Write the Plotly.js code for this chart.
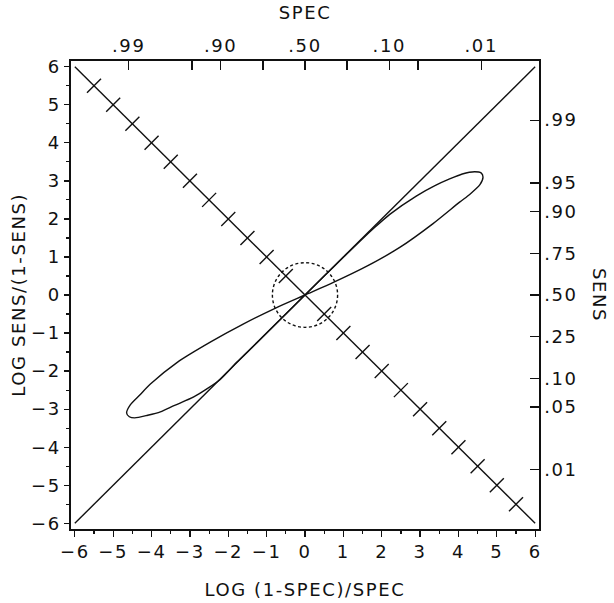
<!DOCTYPE html>
<html>
<head>
<meta charset="utf-8">
<script src="https://cdn.plot.ly/plotly-3.0.1.min.js"></script>
<style>
  html, body { margin: 0; padding: 0; background: #fff; }
  #chart { width: 614px; height: 603px; }
  #chart text { letter-spacing: 1.6px; }
</style>
</head>
<body>
<div id="chart"></div>
<script>
// ---------------- data ----------------
const xTickValues = [-6, -5, -4, -3, -2, -1, 0, 1, 2, 3, 4, 5, 6];
const yTickValues = [-6, -5, -4, -3, -2, -1, 0, 1, 2, 3, 4, 5, 6];

const specValues = [0.99, 0.95, 0.90, 0.75, 0.50, 0.25, 0.10, 0.05, 0.01];
const specLabels = ['.99', '', '.90', '', '.50', '', '.10', '', '.01'];

const sensValues = [0.99, 0.95, 0.90, 0.75, 0.50, 0.25, 0.10, 0.05, 0.01];
const sensLabels = ['.99', '.95', '.90', '.75', '.50', '.25', '.10', '.05', '.01'];

// diagonal y = x
const diagX = [-6, 6];
const diagY = [-6, 6];
// anti-diagonal y = -x
const antiX = [-6, 6];
const antiY = [6, -6];
// cross marks along the anti-diagonal
const crossX = [-5.5, -5, -4.5, -4, -3.5, -3, -2.5, -2, -1.5, -1, -0.5,
                 0.5, 1, 1.5, 2, 2.5, 3, 3.5, 4, 4.5, 5, 5.5];
const crossY = [5.5, 5, 4.5, 4, 3.5, 3, 2.5, 2, 1.5, 1, 0.5,
                -0.5, -1, -1.5, -2, -2.5, -3, -3.5, -4, -4.5, -5, -5.5];

// figure-eight ("ellipse") curve
const loopX = [0, 0.5, 1.0, 1.5, 1.8, 2.21, 2.9, 3.4, 3.77, 4.1, 4.42, 4.59, 4.64, 4.56, 4.3, 4.03, 3.33, 2.47, 1.6, 0.74,
               0, -0.74, -1.6, -2.47, -3.33, -4.03, -4.3, -4.55, -4.65, -4.58, -4.44, -4.1, -3.77, -3.4, -2.9, -2.21, -1.8, -1.5, -1.0, -0.5, 0];
const loopY = [0, 0.5, 0.99, 1.48, 1.76, 2.12, 2.6, 2.88, 3.05, 3.18, 3.24, 3.21, 3.1, 2.9, 2.65, 2.44, 1.87, 1.25, 0.75, 0.33,
               0, -0.33, -0.76, -1.24, -1.77, -2.34, -2.62, -2.88, -3.1, -3.2, -3.23, -3.16, -3.07, -2.9, -2.68, -2.22, -1.79, -1.5, -1.0, -0.5, 0];

// dashed circle around the origin
const circleRadius = 0.85;

// ---------------- chart ----------------
const logit = p => Math.log(p / (1 - p));
const specPositions = specValues.map(s => Math.log((1 - s) / s));
const sensPositions = sensValues.map(logit);

const FONT = 'DejaVu Sans, Liberation Sans, Arial, sans-serif';
const INK = '#111';
const FS = 18;
const xRange = [-6.1, 6.1];
const yRange = [-6.15, 6.15];

const traces = [
  { x: diagX, y: diagY, mode: 'lines', line: { color: INK, width: 1.4 }, hoverinfo: 'skip' },
  { x: antiX, y: antiY, mode: 'lines', line: { color: INK, width: 1.4 }, hoverinfo: 'skip' },
  { x: crossX, y: crossY, mode: 'markers',
    marker: { symbol: 'line-ne', size: 14, color: INK, line: { color: INK, width: 1.4 } }, hoverinfo: 'skip' },
  { x: loopX, y: loopY, mode: 'lines', line: { color: INK, width: 1.4, shape: 'spline', smoothing: 0.7 }, hoverinfo: 'skip' },
  // invisible helper trace so the top/right axes are drawn
  { x: [0], y: [0], xaxis: 'x2', yaxis: 'y2', mode: 'markers', marker: { opacity: 0 }, hoverinfo: 'skip' }
];

const axisCommon = {
  showgrid: false, zeroline: false, showline: true,
  linecolor: INK, linewidth: 1.6, tickcolor: INK, tickwidth: 1.3,
  tickfont: { family: FONT, size: FS, color: INK }
};

const layout = {
  width: 614, height: 603,
  margin: { l: 71, r: 75, t: 61, b: 74 },
  paper_bgcolor: '#fff', plot_bgcolor: '#fff',
  showlegend: false,
  xaxis: Object.assign({}, axisCommon, {
    range: xRange, tickmode: 'array', tickvals: xTickValues,
    ticks: 'outside', ticklen: 6,
    minor: { dtick: 0.5, ticks: 'outside', ticklen: 3, tickcolor: INK, tickwidth: 1.2 }
  }),
  yaxis: Object.assign({}, axisCommon, {
    range: yRange, tickmode: 'array', tickvals: yTickValues,
    ticks: 'outside', ticklen: 5,
    minor: { dtick: 0.5, ticks: 'outside', ticklen: 3, tickcolor: INK, tickwidth: 1.2 }
  }),
  xaxis2: Object.assign({}, axisCommon, {
    overlaying: 'x', side: 'top', range: xRange,
    tickmode: 'array', tickvals: specPositions, ticktext: specLabels,
    ticks: 'inside', ticklen: 9
  }),
  yaxis2: Object.assign({}, axisCommon, {
    overlaying: 'y', side: 'right', range: yRange,
    tickmode: 'array', tickvals: sensPositions, ticktext: sensLabels,
    ticks: 'inside', ticklen: 9
  }),
  shapes: [{
    type: 'circle', xref: 'x', yref: 'y',
    x0: -circleRadius, x1: circleRadius, y0: -circleRadius, y1: circleRadius,
    line: { color: INK, width: 1.4, dash: '3px,2.5px' }
  }],
  annotations: [
    { text: 'SPEC', xref: 'paper', yref: 'paper', x: 0.5, y: 1.1026, xanchor: 'center', yanchor: 'middle',
      showarrow: false, font: { family: FONT, size: FS, color: INK } },
    { text: 'LOG (1-SPEC)/SPEC', xref: 'paper', yref: 'paper', x: 0.5, y: -0.13, xanchor: 'center', yanchor: 'middle',
      showarrow: false, font: { family: FONT, size: FS, color: INK } },
    { text: 'LOG SENS/(1-SENS)', xref: 'paper', yref: 'paper', x: -0.113, y: 0.5, xanchor: 'center', yanchor: 'middle',
      textangle: -90, showarrow: false, font: { family: FONT, size: FS, color: INK } },
    { text: 'SENS', xref: 'paper', yref: 'paper', x: 1.13, y: 0.5, xanchor: 'center', yanchor: 'middle',
      textangle: 90, showarrow: false, font: { family: FONT, size: FS, color: INK } }
  ]
};

Plotly.newPlot('chart', traces, layout, { staticPlot: true, displayModeBar: false });
</script>
</body>
</html>
